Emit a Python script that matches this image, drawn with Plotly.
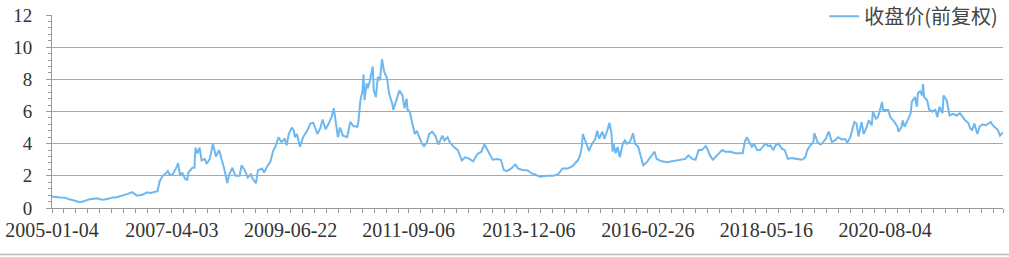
import pandas as pd
import plotly.graph_objects as go

# ---------------- data (weekly samples) ----------------
start_date = "2005-01-04"
series_name = "收盘价(前复权)"

tick_labels = ["2005-01-04", "2007-04-03", "2009-06-22", "2011-09-06",
               "2013-12-06", "2016-02-26", "2018-05-16", "2020-08-04"]

week_a = [0, 3, 8, 13, 16, 20, 23, 27, 31, 37, 41, 44, 47, 50, 55, 59, 62, 66, 70, 74,
          78, 81, 83, 88, 93, 96, 101, 103, 105, 108, 111, 113, 115]
close_a = [0.72, 0.68, 0.66, 0.64, 0.55, 0.50, 0.45, 0.36, 0.42, 0.55, 0.58, 0.60, 0.55, 0.52,
           0.58, 0.66, 0.66, 0.72, 0.80, 0.88, 0.98, 0.85, 0.77, 0.82, 0.98, 0.93, 1.00, 1.05,
           1.65, 2.00, 2.15, 2.30, 2.05]

week_b = [118, 122, 123, 125, 127, 130, 132, 133, 137, 139, 140, 142, 144, 146, 149, 151,
          154, 157, 160, 163, 166, 168, 171, 173, 176, 179, 183, 185, 188, 191, 194, 196,
          199, 201, 205, 207, 210, 213, 216, 218, 221, 224, 227, 229, 231, 234, 236]
close_b = [2.10, 2.60, 2.80, 2.00, 2.20, 1.80, 1.75, 2.20, 2.50, 2.50, 3.75, 3.40, 3.75, 2.95,
           3.05, 2.75, 3.05, 4.00, 3.20, 3.60, 2.95, 2.45, 1.55, 2.10, 2.50, 2.00, 2.00, 2.65,
           2.35, 1.90, 2.10, 1.80, 1.55, 2.35, 2.45, 2.20, 2.60, 2.85, 3.60, 3.80, 4.40, 4.10,
           4.30, 3.90, 4.60, 5.00, 4.80]

week_c = [237, 239, 242, 245, 249, 252, 255, 259, 262, 264, 267, 270, 273, 275, 278, 279,
          281, 284, 288, 291, 294, 298, 299, 301, 303, 304, 305, 307, 308, 310, 313, 314,
          316, 318, 320, 322, 324, 327, 329, 332, 333, 336, 339, 342, 344, 346, 347]
close_c = [4.40, 4.60, 3.80, 4.40, 4.80, 5.25, 5.30, 4.60, 5.00, 5.50, 4.90, 5.25, 5.70, 6.20,
           5.05, 4.40, 5.00, 4.50, 4.40, 5.35, 5.10, 5.05, 5.35, 6.70, 7.30, 8.30, 6.70, 7.75,
           7.45, 7.85, 8.80, 7.30, 6.90, 8.15, 7.95, 9.25, 8.50, 8.05, 7.10, 6.50, 6.10, 6.75,
           7.30, 7.00, 6.20, 6.80, 6.10]

week_d = [349, 351, 352, 354, 356, 358, 361, 363, 366, 368, 371, 374, 377, 381, 383, 386,
          388, 392, 396, 400, 403, 406, 411, 415, 419, 422, 425, 427, 430, 434, 438, 441,
          444, 448, 452, 455, 460, 464, 468]
close_d = [6.00, 5.45, 5.15, 4.60, 4.80, 4.50, 4.00, 3.85, 4.10, 4.60, 4.75, 4.50, 3.95, 4.50,
           4.20, 4.40, 4.10, 3.80, 3.60, 2.95, 3.15, 3.10, 2.90, 3.35, 3.50, 3.95, 3.60, 3.35,
           3.00, 3.05, 3.00, 2.35, 2.30, 2.45, 2.70, 2.45, 2.35, 2.35, 2.15]

week_e = [471, 476, 483, 489, 494, 498, 503, 508, 510, 513, 515, 517, 518, 520, 522, 524,
          527, 530, 532, 534, 537, 539, 542, 544, 546, 547, 548, 550, 552, 554, 557, 559,
          561, 564, 567, 569, 572, 576, 577, 581, 584]
close_e = [2.10, 1.95, 2.00, 2.00, 2.10, 2.45, 2.45, 2.60, 2.75, 2.95, 3.20, 3.80, 4.60, 4.25,
           3.90, 3.55, 4.00, 4.25, 4.80, 4.30, 4.75, 4.30, 4.85, 5.30, 4.60, 3.50, 4.00, 3.40,
           3.80, 3.15, 4.00, 4.20, 4.00, 4.10, 4.65, 4.00, 3.80, 2.95, 2.65, 2.90, 3.15]

week_f = [588, 590, 595, 600, 605, 610, 615, 618, 621, 625, 628, 631, 634, 638, 640, 642,
          645, 649, 654, 657, 662, 667, 671, 674, 676, 678, 680, 683, 685, 688, 691, 696, 699]
close_f = [3.50, 3.05, 2.90, 2.85, 2.90, 2.95, 3.00, 3.05, 3.27, 3.05, 3.00, 3.60, 3.60, 3.85,
           3.60, 3.27, 3.00, 3.27, 3.60, 3.50, 3.50, 3.40, 3.40, 3.40, 4.10, 4.40, 4.15, 3.80,
           4.00, 3.60, 3.60, 4.00, 3.85]

week_g = [701, 704, 706, 709, 712, 715, 718, 722, 727, 732, 735, 737, 740, 743, 744, 747,
          750, 752, 755, 758, 761, 764, 767, 771, 774, 776, 779, 781, 783, 785, 787, 790,
          792, 795, 797, 800, 801, 804, 806, 808, 810, 811]
close_g = [3.90, 3.60, 3.90, 4.00, 3.70, 3.60, 3.05, 3.10, 3.05, 3.00, 3.15, 3.60, 3.90, 4.10,
           4.65, 4.10, 3.95, 4.05, 4.30, 4.75, 4.10, 4.20, 4.40, 4.25, 4.30, 4.05, 4.40, 4.80,
           5.35, 5.25, 4.45, 5.35, 4.60, 5.05, 5.45, 5.15, 6.00, 5.55, 5.65, 6.10, 6.60, 6.10]

week_h = [813, 816, 818, 820, 822, 825, 826, 829, 830, 832, 834, 836, 838, 839, 842, 844,
          845, 847, 849, 850, 851, 854, 856, 859, 862, 864, 866, 869, 870, 873, 875, 876,
          879, 883, 886, 888, 891, 894, 896, 898, 900, 903, 905, 908, 911, 914, 916, 918,
          921, 923, 925, 927, 928]
close_h = [6.10, 6.10, 5.65, 5.50, 5.35, 5.05, 4.75, 5.05, 5.45, 5.05, 5.35, 5.55, 5.90, 6.60,
           6.90, 6.30, 7.15, 7.25, 7.00, 7.70, 6.90, 6.70, 6.10, 6.00, 6.10, 5.65, 6.30, 5.90,
           7.00, 6.70, 6.00, 5.75, 5.85, 5.75, 5.90, 5.70, 5.45, 5.30, 4.95, 4.85, 5.25, 4.60,
           5.05, 5.20, 5.15, 5.25, 5.35, 5.15, 4.95, 4.85, 4.50, 4.60, 4.70]

# ---------------- build ----------------
weeks = week_a + week_b + week_c + week_d + week_e + week_f + week_g + week_h
close = close_a + close_b + close_c + close_d + close_e + close_f + close_g + close_h

t0 = pd.Timestamp(start_date)
dates = [t0 + pd.Timedelta(days=7 * w) for w in weeks]
end_date = dates[-1]

label_dates = [pd.Timestamp(s) for s in tick_labels]
major_vals = label_dates + [end_date]
major_text = tick_labels + [""]

minor_vals = []
bounds = label_dates + [end_date]
step = (label_dates[1] - label_dates[0]) / 10
for a, b in zip(bounds[:-1], bounds[1:]):
    t = a + step
    while t < b - step / 3:
        minor_vals.append(t)
        t += step

GRID = "#A9A9A9"
AXIS = "#999999"
TXT = "#333333"

fig = go.Figure()
fig.add_trace(go.Scatter(
    x=dates, y=close, mode="lines", name=series_name,
    line=dict(color="#6DB8F0", width=2),
    showlegend=True,
))

fig.update_layout(
    width=1009, height=257,
    margin=dict(l=52, r=6, t=15, b=49, autoexpand=False),
    paper_bgcolor="white", plot_bgcolor="white",
    showlegend=True,
    legend=dict(
        x=0.812, xanchor="left", y=1.095, yanchor="top",
        bgcolor="white", borderwidth=0,
        font=dict(family="Noto Sans CJK SC", size=20, color="#444444"),
        itemwidth=30,
    ),
    xaxis=dict(
        range=[t0, end_date],
        tickmode="array", tickvals=major_vals, ticktext=major_text,
        showgrid=False, zeroline=False,
        showline=True, linecolor=AXIS, linewidth=1,
        ticks="outside", ticklen=4, tickcolor=AXIS, tickwidth=1,
        tickfont=dict(family="Liberation Serif", size=20, color=TXT),
        ticklabelstandoff=0,
        minor=dict(tickmode="array", tickvals=minor_vals, ticks="outside",
                   ticklen=4, tickcolor=AXIS, tickwidth=1, showgrid=False),
    ),
    yaxis=dict(
        range=[0, 12], tickmode="linear", tick0=0, dtick=2,
        showgrid=True, gridcolor=GRID, gridwidth=1, zeroline=False,
        showline=True, linecolor=AXIS, linewidth=1,
        ticks="outside", ticklen=5, tickcolor=AXIS, tickwidth=1,
        tickfont=dict(family="Liberation Serif", size=19, color=TXT),
        ticklabelstandoff=10,
        minor=dict(tickmode="linear", tick0=0, dtick=0.4, ticks="outside", ticklen=3,
                   tickcolor=AXIS, tickwidth=1, showgrid=False),
    ),
    shapes=[dict(type="line", xref="paper", yref="paper",
                 x0=-52 / 951, x1=957 / 951, y0=-46.5 / 193, y1=-46.5 / 193,
                 line=dict(color="#BBBBBB", width=1.5))],
)

fig.write_html("out.html")
